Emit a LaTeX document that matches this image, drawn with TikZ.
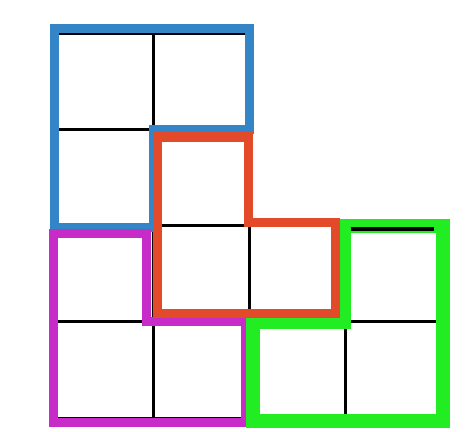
\documentclass[tikz,border=0pt]{standalone}
\usepackage{tikz}
\definecolor{tileblue}{RGB}{52,132,200}
\definecolor{tilered}{RGB}{226,74,42}
\definecolor{tilemag}{RGB}{200,44,200}
\definecolor{tilegreen}{RGB}{34,236,34}

\begin{document}
\begin{tikzpicture}[x=1cm,y=1cm,line join=miter]
            % styles
            \tikzstyle{tile}=[line width=0.095cm]
            \tikzstyle{boardline}=[line width=0.03cm,black]

            \useasboundingbox (-0.592,-0.135) rectangle (4.301,4.343);

            % board
            \draw[boardline] (0,0) grid (4,2);
            \draw[boardline] (0,2) grid (2,4);

            % trominoes
            \draw[tile,tileblue] (-0.03,1.98) -- (-0.03,4.05) -- (2.0,4.05) -- (2.0,3.0) -- (1.0,3.0) -- (1.0,1.98) -- cycle;
            \draw[tile,tilemag] (-0.04,-0.05) -- (-0.04,1.92) -- (0.93,1.92) -- (0.93,1.0) -- (1.96,1.0) -- (1.96,-0.05) -- cycle;
            \draw[tile,tilegreen,line width=0.145cm] (2.04,-0.03) -- (4.01,-0.03) -- (4.01,2.0) -- (2.98,2.0) -- (2.98,1.0) -- (2.04,1.0) -- cycle;
            \draw[tile,tilered] (1.04,1.09) -- (1.04,2.92) -- (1.99,2.92) -- (1.99,2.03) -- (2.89,2.03) -- (2.89,1.09) -- cycle;

            % edge left showing over the green
            \draw[boardline,line width=0.04cm] (3.05,1.96) -- (3.92,1.96);
\end{tikzpicture}
\end{document}
